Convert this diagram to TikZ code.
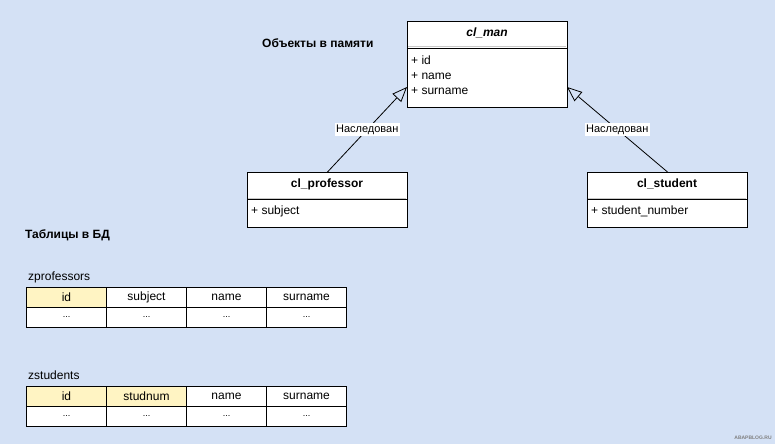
\documentclass[tikz,border=0pt]{standalone}
\usepackage{fontspec}
\setmainfont{Liberation Sans}
\usetikzlibrary{arrows.meta}
\definecolor{bgc}{HTML}{D4E1F5}
\definecolor{keyc}{HTML}{FFF4C3}
\definecolor{sepc}{HTML}{C8C8C8}
\begin{document}
\begin{tikzpicture}[x=1pt,y=-1pt,
  classbox/.style={draw=black, fill=white, line width=1pt, anchor=north west, minimum width=160pt, inner sep=0pt},
  ctitle/.style={font=\fontsize{12}{14}\selectfont\bfseries, anchor=center},
  attr/.style={font=\fontsize{12}{14}\selectfont, anchor=west, inner sep=0pt},
  heading/.style={font=\fontsize{12}{14}\selectfont\bfseries, anchor=west, inner sep=0pt},
  cell/.style={draw=black, line width=1pt, fill=white, anchor=north west, minimum width=80pt, minimum height=20pt, inner sep=0pt, font=\fontsize{12}{14}\selectfont},
  keycell/.style={cell, fill=keyc},
  dots/.style={cell, font=\fontsize{9}{10}\selectfont},
  inh/.style={draw=black, line width=0.8pt, -{Triangle[open, length=15pt, width=12pt]}},
  lbl/.style={fill=white, font=\fontsize{11}{13}\selectfont, inner sep=1.5pt},
  tname/.style={font=\fontsize{12}{14}\selectfont, anchor=west, inner sep=0pt}
]
\fill[bgc] (0,0) rectangle (775,444);
\useasboundingbox (0,0) rectangle (775,444);

% headings
\node[heading] (hobj) at (262,43) {Объекты в памяти};
\node[heading] (htab) at (25,235) {Таблицы в БД};

% cl_man
\node[classbox, minimum height=86pt] (man) at (407,21) {};
\draw[sepc, line width=1pt] (408,47) -- (566,47);
\draw[black, line width=0.6pt] (407.5,48) -- (566.5,48);
\node[ctitle, font=\fontsize{12}{14}\selectfont\bfseries\itshape] (mant) at (487,33) {cl\_man};
\node[attr] (ma1) at (411,60) {+ id};
\node[attr] (ma2) at (411,76) {+ name};
\node[attr] (ma3) at (411,91) {+ surname};

% cl_professor
\node[classbox, minimum height=55pt] (prof) at (247,172) {};
\draw[sepc, line width=1pt] (248,198) -- (406,198);
\draw[black, line width=0.6pt] (247.5,199) -- (406.5,199);
\node[ctitle] (proft) at (327,184) {cl\_professor};
\node[attr] (pa1) at (251,211) {+ subject};

% cl_student
\node[classbox, minimum height=55pt] (stud) at (587,172) {};
\draw[sepc, line width=1pt] (588,198) -- (746,198);
\draw[black, line width=0.6pt] (587.5,199) -- (746.5,199);
\node[ctitle] (studt) at (667,184) {cl\_student};
\node[attr] (sa1) at (591,211) {+ student\_number};

% inheritance connectors
\coordinate (manL) at (407,87);
\coordinate (manR) at (567,87);
\draw[inh] (prof.north) -- node[lbl] {Наследован} (manL);
\draw[inh] (stud.north) -- node[lbl] {Наследован} (manR);

% table zprofessors
\node[tname] (zp) at (28,277) {zprofessors};
\node[keycell] (p11) at (26,287) {id};
\node[cell] (p12) at (106,287) {subject};
\node[cell] (p13) at (186,287) {name};
\node[cell] (p14) at (266,287) {surname};
\node[dots] (p21) at (26,307) {...};
\node[dots] (p22) at (106,307) {...};
\node[dots] (p23) at (186,307) {...};
\node[dots] (p24) at (266,307) {...};

% table zstudents
\node[tname] (zs) at (28,375) {zstudents};
\node[keycell] (s11) at (26,386) {id};
\node[keycell] (s12) at (106,386) {studnum};
\node[cell] (s13) at (186,386) {name};
\node[cell] (s14) at (266,386) {surname};
\node[dots] (s21) at (26,406) {...};
\node[dots] (s22) at (106,406) {...};
\node[dots] (s23) at (186,406) {...};
\node[dots] (s24) at (266,406) {...};

% watermark
\node[font=\fontsize{5}{6}\selectfont\bfseries, text=gray, inner sep=0pt] (wm) at (753,438) {ABAPBLOG.RU};
\end{tikzpicture}
\end{document}
